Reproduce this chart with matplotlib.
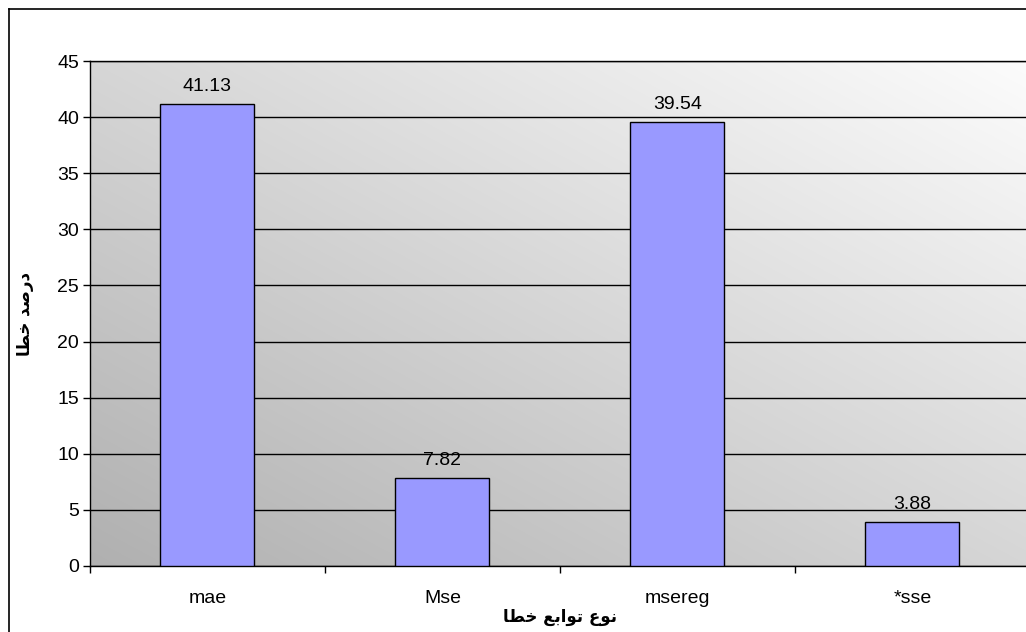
import numpy as np
import matplotlib
matplotlib.use('Agg')
import matplotlib.pyplot as plt
from matplotlib.lines import Line2D

# data
categories = ['mae', 'Mse', 'msereg', '*sse']
values = [41.13, 7.82, 39.54, 3.88]
y_ticks = [0, 5, 10, 15, 20, 25, 30, 35, 40, 45]

# Persian labels, written in shaped presentation forms (visual order)
xlabel = '\uFE8E\uFEC4\uFEA7 \uFECA\uFE91\uFE8D\uFEEE\uFE97 \uFEC9\uFEEE\uFEE7'  # نوع توابع خطا
ylabel = '\uFE8E\uFEC4\uFEA7 \uFEAA\uFEBB\uFEAD\uFEA9'  # درصد خطا

plt.rcParams['font.family'] = ['Liberation Sans', 'DejaVu Sans']

W, H = 1026, 632
fig = plt.figure(figsize=(W / 100, H / 100), dpi=100)

# outer chart frame (only top and left edges are inside the picture)
fig.add_artist(Line2D([9 / W, 1], [1 - 9 / H, 1 - 9 / H], color='black', lw=1.2, transform=fig.transFigure))
fig.add_artist(Line2D([9 / W, 9 / W], [0, 1 - 9 / H], color='black', lw=1.2, transform=fig.transFigure))

left, right, top, bottom = 90, 1030, 61, 566
ax = fig.add_axes([left / W, 1 - bottom / H, (right - left) / W, (bottom - top) / H])

# diagonal grey gradient, dark bottom-left to light top-right
n = 200
u, v = np.meshgrid(np.linspace(0, 1, n), np.linspace(0, 1, n))
t = (u + v) / 2
grey = (0xB0 + (0xFC - 0xB0) * t) / 255
img = np.dstack([grey, grey, grey])
ax.imshow(img, extent=[0, 1, 0, 1], transform=ax.transAxes, origin='lower',
          aspect='auto', zorder=0, interpolation='bilinear')

x = np.arange(len(categories))
ax.bar(x, values, width=0.4, color='#9999FF', edgecolor='black', linewidth=1, zorder=3)

for xi, val in zip(x, values):
    ax.annotate(f'{val:.2f}', (xi, val), xytext=(0, 7), textcoords='offset points',
                ha='center', va='bottom', fontsize=14, zorder=4)

ax.set_xlim(-0.5, 3.5)
ax.set_ylim(0, 45)
ax.set_yticks(y_ticks)
ax.yaxis.grid(True, color='black', linewidth=1, zorder=1)
ax.set_axisbelow(True)

ax.set_xticks(x)
ax.set_xticklabels(categories)
ax.set_xticks(np.arange(-0.5, 4, 1), minor=True)
ax.tick_params(axis='x', which='major', length=0, pad=17, labelsize=14)
ax.tick_params(axis='x', which='minor', length=5, direction='out', width=1)
ax.tick_params(axis='y', length=5, direction='out', width=1, labelsize=14, pad=3)

for s in ['right']:
    ax.spines[s].set_visible(False)
for s in ['left', 'bottom', 'top']:
    ax.spines[s].set_color('black')
    ax.spines[s].set_linewidth(1)

fig.text(560 / W, 1 - 617 / H, xlabel, ha='center', va='center', fontsize=12,
         fontweight='bold', family=['DejaVu Sans'])
fig.text(25 / W, 1 - 314 / H, ylabel, ha='center', va='center', fontsize=12,
         fontweight='bold', rotation=90, family=['DejaVu Sans'])

fig.savefig('out.png', dpi=100)
